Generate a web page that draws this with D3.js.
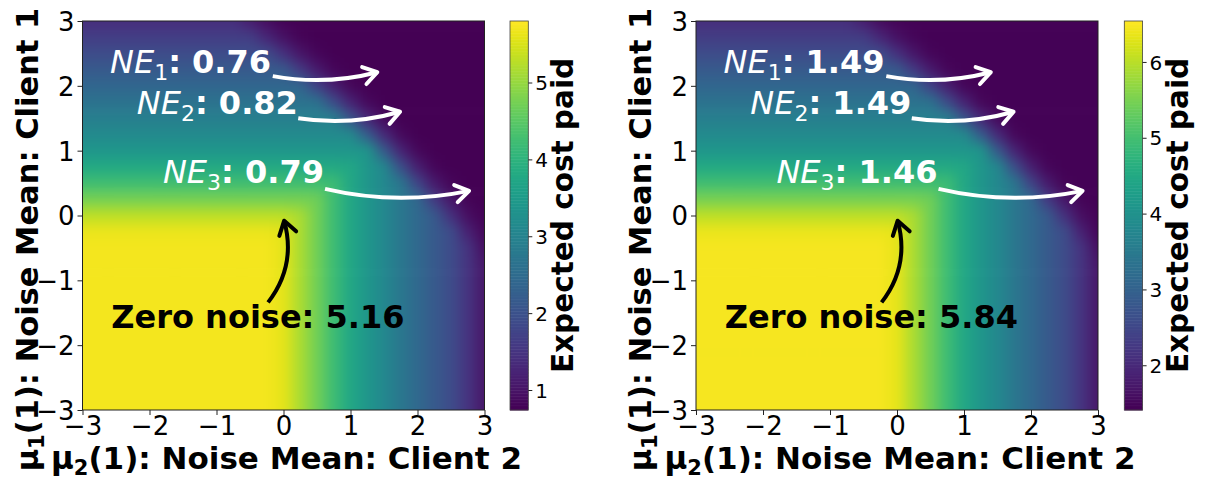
<!DOCTYPE html>
<html><head><meta charset="utf-8">
<script src="https://cdn.jsdelivr.net/npm/d3@7"></script>
<style>
body{margin:0;background:#fff;}
svg{display:block;font-family:"DejaVu Sans",sans-serif;}
</style></head><body>
<svg id="chart" width="1210" height="479"></svg>
<script>
// ---------------- data ----------------
const gridX = [-3,-2.75,-2.5,-2.25,-2,-1.75,-1.5,-1.25,-1,-0.75,-0.5,-0.25,0,0.25,0.5,0.75,1,1.25,1.5,1.75,2,2.25,2.5,2.75,3];
const gridY = [3,2.75,2.5,2.25,2,1.75,1.5,1.25,1,0.75,0.5,0.25,0,-0.25,-0.5,-0.75,-1,-1.25,-1.5,-1.75,-2,-2.25,-2.5,-2.75,-3];

const costLeft = [
[1.4,1.4,1.4,1.4,1.4,1.4,1.4,1.4,1.4,1.4,1.14,0.9,0.77,0.74,0.74,0.74,0.74,0.74,0.74,0.74,0.74,0.74,0.74,0.74,0.74],
[1.65,1.65,1.65,1.65,1.65,1.65,1.65,1.65,1.65,1.65,1.65,1.29,0.97,0.79,0.74,0.74,0.74,0.74,0.74,0.74,0.74,0.74,0.74,0.74,0.74],
[1.9,1.9,1.9,1.9,1.9,1.9,1.9,1.9,1.9,1.9,1.9,1.9,1.44,1.03,0.8,0.74,0.74,0.74,0.74,0.74,0.74,0.74,0.74,0.74,0.74],
[2.15,2.15,2.15,2.15,2.15,2.15,2.15,2.15,2.15,2.15,2.15,2.15,2.15,1.59,1.09,0.81,0.74,0.74,0.74,0.74,0.74,0.74,0.74,0.74,0.74],
[2.4,2.4,2.4,2.4,2.4,2.4,2.4,2.4,2.4,2.4,2.4,2.4,2.4,2.4,1.74,1.16,0.82,0.74,0.74,0.74,0.74,0.74,0.74,0.74,0.74],
[2.65,2.65,2.65,2.65,2.65,2.65,2.65,2.65,2.65,2.65,2.65,2.65,2.65,2.65,2.65,1.89,1.22,0.84,0.74,0.74,0.74,0.74,0.74,0.74,0.74],
[2.9,2.9,2.9,2.9,2.9,2.9,2.9,2.9,2.9,2.9,2.9,2.9,2.9,2.9,2.9,2.9,2.04,1.28,0.85,0.74,0.74,0.74,0.74,0.74,0.74],
[3.15,3.15,3.15,3.15,3.15,3.15,3.15,3.15,3.15,3.15,3.15,3.15,3.15,3.15,3.15,3.15,3.15,2.19,1.33,0.84,0.74,0.74,0.74,0.74,0.74],
[3.4,3.4,3.4,3.4,3.4,3.4,3.4,3.4,3.4,3.4,3.4,3.4,3.4,3.4,3.4,3.4,3.4,3.4,2.16,1.24,0.83,0.74,0.74,0.74,0.74],
[3.8,3.8,3.8,3.8,3.8,3.8,3.8,3.8,3.8,3.8,3.8,3.8,3.8,3.8,3.8,3.8,3.75,3.4,3.1,1.95,1.17,0.81,0.74,0.74,0.74],
[4.25,4.25,4.25,4.25,4.25,4.25,4.25,4.25,4.25,4.25,4.25,4.25,4.25,4.25,4.25,4.2,3.75,3.4,3.1,2.75,1.77,1.09,0.8,0.74,0.74],
[4.75,4.75,4.75,4.75,4.75,4.75,4.75,4.75,4.75,4.75,4.75,4.75,4.75,4.75,4.7,4.2,3.75,3.4,3.1,2.75,2.45,1.59,1.03,0.78,0.74],
[5.3,5.3,5.3,5.3,5.3,5.3,5.3,5.3,5.3,5.3,5.3,5.3,5.3,5.15,4.7,4.2,3.75,3.4,3.1,2.75,2.45,2.15,1.44,0.93,0.76],
[5.65,5.65,5.65,5.65,5.65,5.65,5.65,5.65,5.65,5.65,5.65,5.65,5.6,5.15,4.7,4.2,3.75,3.4,3.1,2.75,2.45,2.15,1.9,1.2,0.82],
[5.72,5.72,5.72,5.72,5.72,5.72,5.72,5.72,5.72,5.72,5.72,5.72,5.6,5.15,4.7,4.2,3.75,3.4,3.1,2.75,2.45,2.15,1.9,1.5,0.93],
[5.72,5.72,5.72,5.72,5.72,5.72,5.72,5.72,5.72,5.72,5.72,5.72,5.6,5.15,4.7,4.2,3.75,3.4,3.1,2.75,2.45,2.15,1.9,1.5,1.05],
[5.72,5.72,5.72,5.72,5.72,5.72,5.72,5.72,5.72,5.72,5.72,5.72,5.6,5.15,4.7,4.2,3.75,3.4,3.1,2.75,2.45,2.15,1.9,1.5,1.05],
[5.72,5.72,5.72,5.72,5.72,5.72,5.72,5.72,5.72,5.72,5.72,5.72,5.6,5.15,4.7,4.2,3.75,3.4,3.1,2.75,2.45,2.15,1.9,1.5,1.05],
[5.72,5.72,5.72,5.72,5.72,5.72,5.72,5.72,5.72,5.72,5.72,5.72,5.6,5.15,4.7,4.2,3.75,3.4,3.1,2.75,2.45,2.15,1.9,1.5,1.05],
[5.72,5.72,5.72,5.72,5.72,5.72,5.72,5.72,5.72,5.72,5.72,5.72,5.6,5.15,4.7,4.2,3.75,3.4,3.1,2.75,2.45,2.15,1.9,1.5,1.05],
[5.72,5.72,5.72,5.72,5.72,5.72,5.72,5.72,5.72,5.72,5.72,5.72,5.6,5.15,4.7,4.2,3.75,3.4,3.1,2.75,2.45,2.15,1.9,1.5,1.05],
[5.72,5.72,5.72,5.72,5.72,5.72,5.72,5.72,5.72,5.72,5.72,5.72,5.6,5.15,4.7,4.2,3.75,3.4,3.1,2.75,2.45,2.15,1.9,1.5,1.05],
[5.72,5.72,5.72,5.72,5.72,5.72,5.72,5.72,5.72,5.72,5.72,5.72,5.6,5.15,4.7,4.2,3.75,3.4,3.1,2.75,2.45,2.15,1.9,1.5,1.05],
[5.72,5.72,5.72,5.72,5.72,5.72,5.72,5.72,5.72,5.72,5.72,5.72,5.6,5.15,4.7,4.2,3.75,3.4,3.1,2.75,2.45,2.15,1.9,1.5,1.05],
[5.72,5.72,5.72,5.72,5.72,5.72,5.72,5.72,5.72,5.72,5.72,5.72,5.6,5.15,4.7,4.2,3.75,3.4,3.1,2.75,2.45,2.15,1.9,1.5,1.05]
];

const costRight = [
[2.08,2.08,2.08,2.08,2.08,2.08,2.08,2.08,2.08,2.08,1.82,1.57,1.47,1.45,1.45,1.45,1.45,1.45,1.45,1.45,1.45,1.45,1.45,1.45,1.45],
[2.33,2.33,2.33,2.33,2.33,2.33,2.33,2.33,2.33,2.33,2.33,1.97,1.64,1.48,1.45,1.45,1.45,1.45,1.45,1.45,1.45,1.45,1.45,1.45,1.45],
[2.59,2.59,2.59,2.59,2.59,2.59,2.59,2.59,2.59,2.59,2.59,2.59,2.12,1.7,1.48,1.45,1.45,1.45,1.45,1.45,1.45,1.45,1.45,1.45,1.45],
[2.84,2.84,2.84,2.84,2.84,2.84,2.84,2.84,2.84,2.84,2.84,2.84,2.84,2.27,1.77,1.48,1.45,1.45,1.45,1.45,1.45,1.45,1.45,1.45,1.45],
[3.09,3.09,3.09,3.09,3.09,3.09,3.09,3.09,3.09,3.09,3.09,3.09,3.09,3.09,2.42,1.84,1.49,1.45,1.45,1.45,1.45,1.45,1.45,1.45,1.45],
[3.35,3.35,3.35,3.35,3.35,3.35,3.35,3.35,3.35,3.35,3.35,3.35,3.35,3.35,3.35,2.58,1.9,1.51,1.45,1.45,1.45,1.45,1.45,1.45,1.45],
[3.6,3.6,3.6,3.6,3.6,3.6,3.6,3.6,3.6,3.6,3.6,3.6,3.6,3.6,3.6,3.6,2.73,1.96,1.52,1.45,1.45,1.45,1.45,1.45,1.45],
[3.85,3.85,3.85,3.85,3.85,3.85,3.85,3.85,3.85,3.85,3.85,3.85,3.85,3.85,3.85,3.85,3.85,2.88,2.01,1.51,1.45,1.45,1.45,1.45,1.45],
[4.11,4.11,4.11,4.11,4.11,4.11,4.11,4.11,4.11,4.11,4.11,4.11,4.11,4.11,4.11,4.11,4.11,4.11,2.85,1.92,1.5,1.45,1.45,1.45,1.45],
[4.51,4.51,4.51,4.51,4.51,4.51,4.51,4.51,4.51,4.51,4.51,4.51,4.51,4.51,4.51,4.51,4.46,4.11,3.8,2.64,1.85,1.48,1.45,1.45,1.45],
[4.97,4.97,4.97,4.97,4.97,4.97,4.97,4.97,4.97,4.97,4.97,4.97,4.97,4.97,4.97,4.92,4.46,4.11,3.8,3.45,2.45,1.77,1.47,1.45,1.45],
[5.48,5.48,5.48,5.48,5.48,5.48,5.48,5.48,5.48,5.48,5.48,5.48,5.48,5.48,5.43,4.92,4.46,4.11,3.8,3.45,3.14,2.27,1.7,1.47,1.45],
[6.03,6.03,6.03,6.03,6.03,6.03,6.03,6.03,6.03,6.03,6.03,6.03,6.03,5.88,5.43,4.92,4.46,4.11,3.8,3.45,3.14,2.84,2.12,1.6,1.46],
[6.39,6.39,6.39,6.39,6.39,6.39,6.39,6.39,6.39,6.39,6.39,6.39,6.34,5.88,5.43,4.92,4.46,4.11,3.8,3.45,3.14,2.84,2.59,1.88,1.49],
[6.46,6.46,6.46,6.46,6.46,6.46,6.46,6.46,6.46,6.46,6.46,6.46,6.34,5.88,5.43,4.92,4.46,4.11,3.8,3.45,3.14,2.84,2.59,2.18,1.6],
[6.46,6.46,6.46,6.46,6.46,6.46,6.46,6.46,6.46,6.46,6.46,6.46,6.34,5.88,5.43,4.92,4.46,4.11,3.8,3.45,3.14,2.84,2.59,2.18,1.72],
[6.46,6.46,6.46,6.46,6.46,6.46,6.46,6.46,6.46,6.46,6.46,6.46,6.34,5.88,5.43,4.92,4.46,4.11,3.8,3.45,3.14,2.84,2.59,2.18,1.72],
[6.46,6.46,6.46,6.46,6.46,6.46,6.46,6.46,6.46,6.46,6.46,6.46,6.34,5.88,5.43,4.92,4.46,4.11,3.8,3.45,3.14,2.84,2.59,2.18,1.72],
[6.46,6.46,6.46,6.46,6.46,6.46,6.46,6.46,6.46,6.46,6.46,6.46,6.34,5.88,5.43,4.92,4.46,4.11,3.8,3.45,3.14,2.84,2.59,2.18,1.72],
[6.46,6.46,6.46,6.46,6.46,6.46,6.46,6.46,6.46,6.46,6.46,6.46,6.34,5.88,5.43,4.92,4.46,4.11,3.8,3.45,3.14,2.84,2.59,2.18,1.72],
[6.46,6.46,6.46,6.46,6.46,6.46,6.46,6.46,6.46,6.46,6.46,6.46,6.34,5.88,5.43,4.92,4.46,4.11,3.8,3.45,3.14,2.84,2.59,2.18,1.72],
[6.46,6.46,6.46,6.46,6.46,6.46,6.46,6.46,6.46,6.46,6.46,6.46,6.34,5.88,5.43,4.92,4.46,4.11,3.8,3.45,3.14,2.84,2.59,2.18,1.72],
[6.46,6.46,6.46,6.46,6.46,6.46,6.46,6.46,6.46,6.46,6.46,6.46,6.34,5.88,5.43,4.92,4.46,4.11,3.8,3.45,3.14,2.84,2.59,2.18,1.72],
[6.46,6.46,6.46,6.46,6.46,6.46,6.46,6.46,6.46,6.46,6.46,6.46,6.34,5.88,5.43,4.92,4.46,4.11,3.8,3.45,3.14,2.84,2.59,2.18,1.72],
[6.46,6.46,6.46,6.46,6.46,6.46,6.46,6.46,6.46,6.46,6.46,6.46,6.34,5.88,5.43,4.92,4.46,4.11,3.8,3.45,3.14,2.84,2.59,2.18,1.72]
];

const axisTicks = [-3,-2,-1,0,1,2,3];
const cbTicksLeft = [1,2,3,4,5];
const cbTicksRight = [2,3,4,5,6];
const cbDomainLeft = [0.74, 5.8];
const cbDomainRight = [1.41, 6.54];

const neIndex = ["1","2","3"];
const neValuesLeft = ["0.76","0.82","0.79"];
const neValuesRight = ["1.49","1.49","1.46"];
const zeroNoiseLeft = "5.16";
const zeroNoiseRight = "5.84";

// annotation anchors in data coordinates (mu2, mu1)
const neTextX = [-2.59,-2.19,-1.80];
const neTextY = [2.20,1.56,0.50];
const neTailX = [-0.16,0.22,0.62];
const neTailY = [2.15,1.50,0.41];
const neTipX = [1.40,1.74,2.77];
const neTipY = [2.21,1.60,0.38];
const zeroText = [-2.57,-1.74];
const zeroTail = [-0.23,-1.34];
const zeroTip = [0.01,-0.08];

const xLabelMain = "(1): Noise Mean: Client 2";
const yLabelMain = "(1): Noise Mean: Client 1";
const cbLabel = "Expected cost paid";

// ---------------- drawing ----------------
const svg = d3.select("#chart");
const defs = svg.append("defs");
const Y0 = 21, Y1 = 410, CBW = 18.3;

const panels = [
  {id:"L", values:costLeft, domain:cbDomainLeft, cbTicks:cbTicksLeft, ne:neValuesLeft, zero:zeroNoiseLeft, x0:82.5, x1:484.5, cbx:510},
  {id:"R", values:costRight, domain:cbDomainRight, cbTicks:cbTicksRight, ne:neValuesRight, zero:zeroNoiseRight, x0:696, x1:1098, cbx:1124.3}
];

function drawArrow(g, p0, p2, rad, color, width) {
  const dx = p2[0]-p0[0], dy = p2[1]-p0[1], len = Math.hypot(dx,dy);
  const nx = -dy/len, ny = dx/len;
  const c = [(p0[0]+p2[0])/2 + rad*len*nx, (p0[1]+p2[1])/2 + rad*len*ny];
  g.append("path")
    .attr("d", `M${p0[0]},${p0[1]} Q${c[0]},${c[1]} ${p2[0]},${p2[1]}`)
    .attr("fill","none").attr("stroke",color).attr("stroke-width",width)
    .attr("stroke-linecap","butt");
  const ux0 = p2[0]-c[0], uy0 = p2[1]-c[1], ul = Math.hypot(ux0,uy0);
  const ux = ux0/ul, uy = uy0/ul;
  const L = 16, th = 33*Math.PI/180;
  const b = s => [p2[0] - L*(ux*Math.cos(th) - s*uy*Math.sin(th)), p2[1] - L*(uy*Math.cos(th) + s*ux*Math.sin(th))];
  const b1 = b(1), b2 = b(-1);
  g.append("path")
    .attr("d", `M${b1[0]},${b1[1]} L${p2[0]},${p2[1]} L${b2[0]},${b2[1]}`)
    .attr("fill","none").attr("stroke",color).attr("stroke-width",width)
    .attr("stroke-linecap","round").attr("stroke-linejoin","round");
}

panels.forEach(p => {
  const x = d3.scaleLinear().domain([-3,3]).range([p.x0, p.x1]);
  const y = d3.scaleLinear().domain([-3,3]).range([Y1, Y0]);
  const color = d3.scaleSequential(d3.interpolateViridis).domain(p.domain);

  // clip + blur
  defs.append("clipPath").attr("id","clip"+p.id)
    .append("rect").attr("x",p.x0).attr("y",Y0).attr("width",p.x1-p.x0).attr("height",Y1-Y0);
  const f = defs.append("filter").attr("id","blur"+p.id)
    .attr("filterUnits","userSpaceOnUse")
    .attr("x",p.x0-60).attr("y",Y0-60).attr("width",p.x1-p.x0+120).attr("height",Y1-Y0+120)
    .attr("color-interpolation-filters","sRGB");
  f.append("feGaussianBlur").attr("stdDeviation",6.5);

  const cells = [];
  p.values.forEach((row,j) => row.forEach((v,i) => cells.push({i,j,v})));
  const half = 0.125, pad = 0.8, nI = gridX.length-1, nJ = gridY.length-1;
  const xa = d => gridX[d.i] - half - (d.i===0?pad:0);
  const xb = d => gridX[d.i] + half + (d.i===nI?pad:0);
  const ya = d => gridY[d.j] + half + (d.j===0?pad:0);
  const yb = d => gridY[d.j] - half - (d.j===nJ?pad:0);

  const clipG = svg.append("g").attr("clip-path",`url(#clip${p.id})`);
  clipG.append("g").attr("filter",`url(#blur${p.id})`)
    .selectAll("rect").data(cells).join("rect")
    .attr("x", d => x(xa(d)))
    .attr("y", d => y(ya(d)))
    .attr("width", d => x(xb(d)) - x(xa(d)) + 0.6)
    .attr("height", d => y(yb(d)) - y(ya(d)) + 0.6)
    .attr("fill", d => color(d.v));

  // frame
  svg.append("rect").attr("x",p.x0).attr("y",Y0).attr("width",p.x1-p.x0).attr("height",Y1-Y0)
    .attr("fill","none").attr("stroke","#222").attr("stroke-width",1);

  // axes
  const ax = svg.append("g").attr("transform",`translate(0,${Y1})`)
    .call(d3.axisBottom(x).tickValues(axisTicks).tickSize(5).tickPadding(2).tickFormat(d3.format("d")));
  const ay = svg.append("g").attr("transform",`translate(${p.x0},0)`)
    .call(d3.axisLeft(y).tickValues(axisTicks).tickSize(5).tickPadding(3).tickFormat(d3.format("d")));
  [ax, ay].forEach(a => {
    a.select(".domain").remove();
    a.selectAll("line").attr("stroke","#222");
    a.selectAll("text").attr("font-size",26).attr("font-family","DejaVu Sans").attr("fill","#000");
  });
  ay.selectAll("text").attr("dy","0.36em");

  // colorbar
  const cy = d3.scaleLinear().domain(p.domain).range([Y1, Y0]);
  const steps = d3.range(0, 256);
  const vAt = k => p.domain[0] + (p.domain[1]-p.domain[0]) * k/256;
  svg.append("g").selectAll("rect").data(steps).join("rect")
    .attr("x", p.cbx).attr("width", CBW)
    .attr("y", k => cy(vAt(k+1)))
    .attr("height", k => cy(vAt(k)) - cy(vAt(k+1)) + 0.5)
    .attr("fill", k => color(vAt(k+0.5)));
  svg.append("rect").attr("x",p.cbx).attr("y",Y0).attr("width",CBW).attr("height",Y1-Y0)
    .attr("fill","none").attr("stroke","#444").attr("stroke-width",0.8);
  const ac = svg.append("g").attr("transform",`translate(${p.cbx+CBW},0)`)
    .call(d3.axisRight(cy).tickValues(p.cbTicks).tickSize(4).tickPadding(3).tickFormat(d3.format("d")));
  ac.select(".domain").remove();
  ac.selectAll("line").attr("stroke","#222");
  ac.selectAll("text").attr("font-size",20).attr("font-family","DejaVu Sans").attr("fill","#000").attr("dy","0.36em");

  // colorbar label
  svg.append("text")
    .attr("transform",`translate(${p.cbx+CBW+45},${(Y0+Y1)/2}) rotate(-90)`)
    .attr("text-anchor","middle").attr("font-size",29.5).attr("font-weight","bold")
    .text(cbLabel);

  // x label
  const xl = svg.append("text")
    .attr("x",(p.x0+p.x1)/2 + 3).attr("y",469)
    .attr("text-anchor","middle").attr("font-size",31).attr("font-weight","bold");
  xl.append("tspan").text("\u03bc");
  xl.append("tspan").attr("font-size",21).attr("dy",6).text("2");
  xl.append("tspan").attr("dy",-6).text(xLabelMain);

  // y label
  const yl = svg.append("text")
    .attr("transform",`translate(${p.x0-45},${(Y0+Y1)/2+24}) rotate(-90)`)
    .attr("text-anchor","middle").attr("font-size",30.5).attr("font-weight","bold");
  yl.append("tspan").text("\u03bc");
  yl.append("tspan").attr("font-size",21).attr("dy",6).text("1");
  yl.append("tspan").attr("dy",-6).text(yLabelMain);

  // NE annotations
  const ann = svg.append("g");
  neIndex.forEach((k, n) => {
    const t = ann.append("text").attr("x", x(neTextX[n])).attr("y", y(neTextY[n]))
      .attr("fill","#fff").attr("font-size",32);
    t.append("tspan").attr("font-style","italic").text("NE");
    t.append("tspan").attr("font-size",22).attr("dy",7).text(k);
    t.append("tspan").attr("dy",-7).attr("font-weight","bold").text(": " + p.ne[n]);
    drawArrow(ann, [x(neTailX[n]), y(neTailY[n])], [x(neTipX[n]), y(neTipY[n])], 0.11, "#fff", 4);
  });
  // zero noise
  ann.append("text").attr("x", x(zeroText[0])).attr("y", y(zeroText[1]))
    .attr("fill","#000").attr("font-size",32).attr("font-weight","bold")
    .text("Zero noise: " + p.zero);
  drawArrow(ann, [x(zeroTail[0]), y(zeroTail[1])], [x(zeroTip[0]), y(zeroTip[1])], 0.25, "#000", 4);
});
</script>
</body></html>
